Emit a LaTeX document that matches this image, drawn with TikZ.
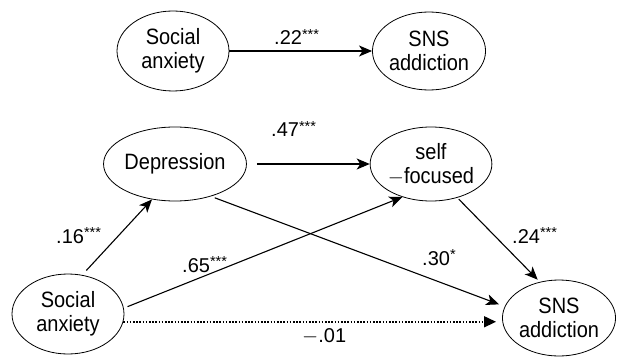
\documentclass[tikz,border=0pt]{standalone}
\usepackage{fontspec}
\setmainfont{Liberation Sans}
\newfontfamily\nodefont{Liberation Sans}[FakeStretch=0.9]
\usetikzlibrary{shapes.geometric,arrows.meta}
\newcommand{\stars}[1]{{\fontsize{14.5}{14.5}\selectfont\raisebox{5.5pt}{#1}}}
\tikzset{
  var/.style={ellipse,draw,line width=0.8pt,inner sep=0pt,align=center,
    font=\nodefont\fontsize{22.2}{24}\selectfont},
  path/.style={line width=1.1pt,-{Stealth[length=13pt,width=11pt,inset=3.5pt]}},
  dotpath/.style={line width=1.5pt,dash pattern=on 1.6pt off 1.6pt,-{Triangle[length=12pt,width=11pt]}},
  coef/.style={font=\fontsize{20}{20}\selectfont,anchor=base west,inner sep=0pt}
}
\begin{document}
\begin{tikzpicture}[x=1pt,y=1pt]
\useasboundingbox (0,0) rectangle (617,359);
% top model
\node[var,minimum width=112pt,minimum height=80pt] (sa1) at (173,308) {Social\\anxiety};
\node[var,minimum width=112pt,minimum height=78pt] (sns1) at (429,308) {SNS\\addiction};
\draw[path] (sa1.east) -- (sns1.west);
\node[coef] (l22) at (274,314) {.22\stars{***}};
% bottom model
\node[var,minimum width=110pt,minimum height=74pt] (dep) at (175,195) {Depression};
\node[var,minimum width=112pt,minimum height=74pt] (self) at (431,195) {self\\$-$focused};
\node[var,minimum width=112pt,minimum height=80pt] (sa2) at (68,45) {Social\\anxiety};
\node[var,minimum width=112pt,minimum height=76pt] (sns2) at (559,41) {SNS\\addiction};
\draw[path,shorten <=10pt] (dep.east) -- (self.west);
\draw[path,shorten <=6pt] (sa2.70) -- (dep.237);
\draw[path,shorten <=4pt] (sa2.6) -- (self.229);
\draw[path,shorten <=4pt,shorten >=6pt] (dep.-42) -- (sns2.168);
\draw[path,shorten <=2pt,shorten >=3pt] (self.-52) -- (sns2.118);
\coordinate (dstart) at (sa2.-8);
\draw[dotpath,shorten >=6pt] (dstart) -- (dstart -| sns2.west);
\node[coef] (l47) at (271,222) {.47\stars{***}};
\node[coef] (l16) at (56,116) {.16\stars{***}};
\node[coef] (l65) at (182,87) {.65\stars{***}};
\node[coef] (l30) at (422,94) {.30\stars{*}};
\node[coef] (l24) at (512,116) {.24\stars{***}};
\node[coef] (l01) at (302,17) {$-$.01};
\end{tikzpicture}
\end{document}
